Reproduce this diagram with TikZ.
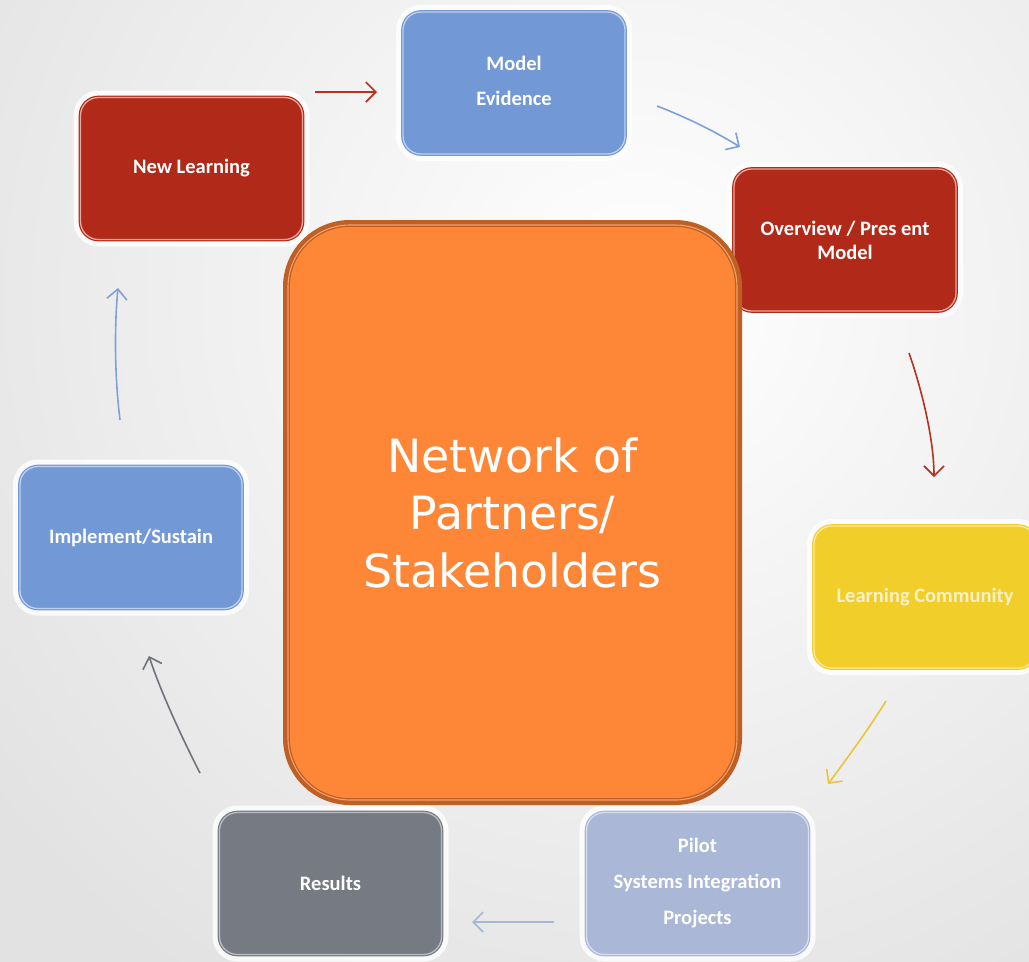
\documentclass[tikz,border=0pt]{standalone}
\usepackage{fontspec}
\setmainfont{Carlito}
\newfontfamily\centrefont{DejaVu Sans}
\usetikzlibrary{arrows.meta}

\definecolor{bgedge}{HTML}{E2E2E2}
\definecolor{redfill}{HTML}{B12A19}
\definecolor{redline}{HTML}{EAA89C}
\definecolor{bluefill}{HTML}{7298D6}
\definecolor{blueline}{HTML}{BDD0F0}
\definecolor{yelfill}{HTML}{F2CE2A}
\definecolor{yelline}{HTML}{F9E8A2}
\definecolor{yeltext}{HTML}{FBF1C8}
\definecolor{pilfill}{HTML}{AAB7D6}
\definecolor{pilline}{HTML}{D6DDEF}
\definecolor{resfill}{HTML}{767A83}
\definecolor{resline}{HTML}{B8BBC1}
\definecolor{orfill}{HTML}{FD8637}
\definecolor{ordark}{HTML}{BE5F26}
\definecolor{orlight}{HTML}{F4A168}
\definecolor{arred}{HTML}{B5321F}
\definecolor{arblue}{HTML}{7FA0D8}
\definecolor{aryel}{HTML}{EBC43A}
\definecolor{arpil}{HTML}{A9B6D6}
\definecolor{argray}{HTML}{6F737B}

\tikzset{
  stagebox/.style={rectangle, rounded corners=18pt,
    minimum width=222pt, minimum height=142pt,
    align=center, text=white, font=\bfseries\fontsize{20.5}{24}\selectfont,
    preaction={draw=white, line width=14pt, opacity=.8},
    line width=1.2pt, double distance=1.3pt},
  redbox/.style={stagebox, fill=redfill, draw=redfill, double=redline},
  bluebox/.style={stagebox, fill=bluefill, draw=bluefill, double=blueline},
  yelbox/.style={stagebox, fill=yelfill, draw=yelfill, double=yelline, text=yeltext},
  pilbox/.style={stagebox, fill=pilfill, draw=pilfill, double=pilline},
  resbox/.style={stagebox, fill=resfill, draw=resfill, double=resline},
  hubbox/.style={rectangle, rounded corners=62pt,
    minimum width=449pt, minimum height=575pt,
    fill=orfill, draw=ordark, double=orlight,
    line width=1.3pt, double distance=1.1pt,
    preaction={draw=ordark, line width=10pt},
    align=center, text=white,
    font=\centrefont\fontsize{45.8}{57.5}\selectfont},
  flow/.style={line width=1.6pt,
    -{Straight Barb[length=10pt,width=20pt,line width=1.6pt]}}
}

\begin{document}
\begin{tikzpicture}[x=1pt,y=-1pt]
  \useasboundingbox (0,0) rectangle (1029,962);

  % soft grey backdrop, brightest towards the upper middle
  \begin{scope}
    \clip (0,0) rectangle (1029,962);
    \fill[bgedge] (0,0) rectangle (1029,962);
    \shade[inner color=white, outer color=bgedge] (640,300) circle (820);
  \end{scope}

  % stages of the cycle
  \node[redbox]  (newl)  at (191.5,168.5) {\raisebox{4pt}{New Learning}};
  \node[bluebox] (model) at (514,83) {\raisebox{4pt}{Model}\\[11pt]\raisebox{4pt}{Evidence}};
  \node[redbox]  (over)  at (845,240) {Overview / Pres ent\\Model};
  \node[yelbox]  (comm)  at (925,597) {Learning Community};
  \node[pilbox]  (pilot) at (697.5,883.5) {Pilot\\[12pt]Systems Integration\\[12pt]Projects};
  \node[resbox]  (res)   at (330.5,883.5) {Results};
  \node[bluebox] (impl)  at (131,537.5) {Implement/Sustain};

  % central hub
  \node[hubbox] (hub) at (512.5,512.5) {Network of\\Partners/\\Stakeholders};

  % arrow ends
  \coordinate (a1s) at (315,92);   \coordinate (a1e) at (377,92);
  \coordinate (a2s) at (657,106);  \coordinate (a2e) at (740,147);
  \coordinate (a3s) at (909,353);  \coordinate (a3e) at (934,477);
  \coordinate (a4s) at (886,701);  \coordinate (a4e) at (828,784);
  \coordinate (a5s) at (554,922);  \coordinate (a5e) at (472,922);
  \coordinate (a6s) at (200,773);  \coordinate (a6e) at (149,656);
  \coordinate (a7s) at (120,420);  \coordinate (a7e) at (118,288);

  % connectors between stages
  \draw[flow, arred]  (a1s) -- (a1e);
  \draw[flow, arblue] (a2s) .. controls (688,118) and (716,132) .. (a2e);
  \draw[flow, arred]  (a3s) .. controls (922,390) and (934,440) .. (a3e);
  \draw[flow, aryel]  (a4s) .. controls (870,727) and (846,760) .. (a4e);
  \draw[flow, arpil]  (a5s) -- (a5e);
  \draw[flow, argray] (a6s) .. controls (182,738) and (160,690) .. (a6e);
  \draw[flow, arblue] (a7s) .. controls (115,380) and (114,330) .. (a7e);
\end{tikzpicture}
\end{document}
